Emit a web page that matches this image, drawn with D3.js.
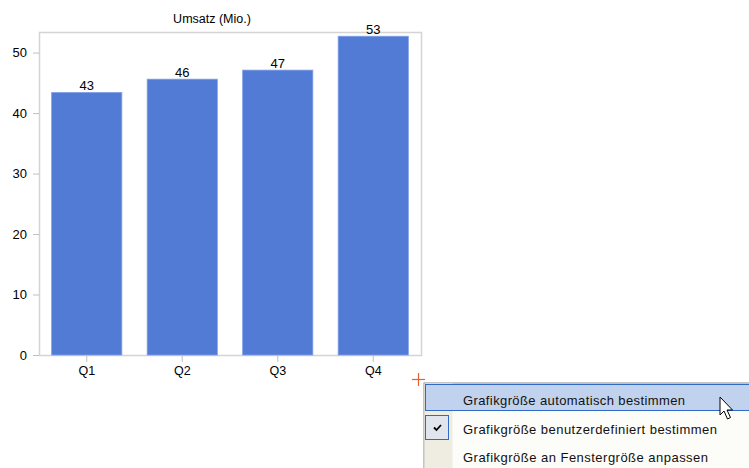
<!DOCTYPE html>
<html>
<head>
<meta charset="utf-8">
<script src="https://cdn.jsdelivr.net/npm/d3@7"></script>
<style>
  body { margin: 0; background: #fff; }
  svg { display: block; font-family: "Liberation Sans", Arial, sans-serif; }
</style>
</head>
<body>
<div id="chart"></div>
<script>
// Data
var quarters = ["Q1", "Q2", "Q3", "Q4"];
var umsatz = [43.4, 45.6, 47.1, 52.7];
var yTicks = [0, 10, 20, 30, 40, 50];
var chartTitle = "Umsatz (Mio.)";
var menuItems = [
    "Grafikgröße automatisch bestimmen",
    "Grafikgröße benutzerdefiniert bestimmen",
    "Grafikgröße an Fenstergröße anpassen"
];

var svgWidth = 749;
var svgHeight = 468;

// Plot frame
var frame = { left: 39, top: 32, right: 421, bottom: 355 };

var svg = d3.select("#chart").append("svg")
    .attr("width", svgWidth)
    .attr("height", svgHeight);

var x = d3.scaleBand()
    .domain(quarters)
    .range([frame.left, frame.right])
    .paddingInner(0.265)
    .paddingOuter(0.1325);

var y = d3.scaleLinear()
    .domain([0, 53.4])
    .range([frame.bottom, frame.top]);

// Title
svg.append("text")
    .attr("x", 212)
    .attr("y", 23)
    .attr("text-anchor", "middle")
    .attr("font-size", "12.5px")
    .attr("fill", "#000")
    .text(chartTitle);

// Frame
svg.append("rect")
    .attr("x", frame.left + 0.5)
    .attr("y", frame.top + 0.5)
    .attr("width", frame.right - frame.left)
    .attr("height", frame.bottom - frame.top)
    .attr("fill", "none")
    .attr("stroke", "#d4d4d4")
    .attr("stroke-width", 1.5);

// Bars
svg.selectAll(".bar")
    .data(umsatz)
    .enter()
    .append("rect")
    .attr("class", "bar")
    .attr("x", (d, i) => x(quarters[i]))
    .attr("y", d => y(d))
    .attr("width", x.bandwidth())
    .attr("height", d => y(0) - y(d))
    .attr("fill", "#527bd6")
    .attr("stroke", "#7f9fe6")
    .attr("stroke-width", 0.8);

// Bar labels
svg.selectAll(".barLabel")
    .data(umsatz)
    .enter()
    .append("text")
    .attr("class", "barLabel")
    .attr("x", (d, i) => x(quarters[i]) + x.bandwidth() / 2)
    .attr("y", d => y(d) - 2)
    .attr("text-anchor", "middle")
    .attr("font-size", "13px")
    .attr("fill", "#000")
    .text(d => Math.round(d));

// Y axis
var leftAxis = d3.axisLeft(y)
    .tickValues(yTicks)
    .tickSize(6)
    .tickPadding(6);

var yAxis = svg.append("g")
    .attr("transform", `translate(${frame.left}, 0)`)
    .call(leftAxis);
yAxis.select(".domain").remove();
yAxis.selectAll("line").attr("stroke", "#c0c0c0");
yAxis.selectAll("text").attr("font-size", "13px").attr("fill", "#000")
    .attr("font-family", "'Liberation Sans', Arial, sans-serif");

// X axis
var bottomAxis = d3.axisBottom(x)
    .tickSize(6)
    .tickPadding(4);

var xAxis = svg.append("g")
    .attr("transform", `translate(0, ${frame.bottom + 1})`)
    .call(bottomAxis);
xAxis.select(".domain").remove();
xAxis.selectAll("line").attr("stroke", "#c0c0c0");
xAxis.selectAll("text").attr("font-size", "12.5px").attr("fill", "#000")
    .attr("font-family", "'Liberation Sans', Arial, sans-serif");

// Orange plus marker
var plus = svg.append("g").attr("stroke", "#e8602c").attr("stroke-width", 1.2);
plus.append("line").attr("x1", 412).attr("x2", 425).attr("y1", 379.5).attr("y2", 379.5);
plus.append("line").attr("x1", 418.5).attr("x2", 418.5).attr("y1", 373).attr("y2", 386);

// Context menu
var menu = svg.append("g").attr("transform", "translate(424, 383)");
var itemH = 28.5;

menu.append("rect")
    .attr("x", 0).attr("y", 0)
    .attr("width", 340).attr("height", 100)
    .attr("fill", "#fcfcf9")
    .attr("stroke", "#8a8a8a")
    .attr("stroke-width", 1);

menu.append("rect")
    .attr("x", 0.5).attr("y", 0.5)
    .attr("width", 28).attr("height", 99)
    .attr("fill", "#efede2");

// Highlighted item
menu.append("rect")
    .attr("x", 1.5).attr("y", 1.5)
    .attr("width", 340).attr("height", 26)
    .attr("fill", "#c1d2ee")
    .attr("stroke", "#316ac5")
    .attr("stroke-width", 1);

// Check box
menu.append("rect")
    .attr("x", 1.5).attr("y", 32.5)
    .attr("width", 23).attr("height", 24)
    .attr("fill", "#e1e6ee")
    .attr("stroke", "#316ac5")
    .attr("stroke-width", 1);
menu.append("path")
    .attr("d", "M10,44.5 L12.5,47 L17,42")
    .attr("fill", "none")
    .attr("stroke", "#000")
    .attr("stroke-width", 1.8);

menu.selectAll(".menuItem")
    .data(menuItems)
    .enter()
    .append("text")
    .attr("class", "menuItem")
    .attr("x", 39)
    .attr("y", (d, i) => 22 + i * itemH)
    .attr("font-size", "13px")
    .attr("font-family", "'Liberation Sans', Arial, sans-serif")
    .attr("textLength", (d, i) => [222, 254, 245][i])
    .attr("fill", "#111")
    .text(d => d);

// Mouse cursor
svg.append("path")
    .attr("d", "M720,397 L720,415 L724,411 L727.5,419 L730.5,417.5 L727,410 L732.5,410 Z")
    .attr("fill", "#fff")
    .attr("stroke", "#000")
    .attr("stroke-width", 1)
    .attr("stroke-linejoin", "round");
</script>
</body>
</html>
